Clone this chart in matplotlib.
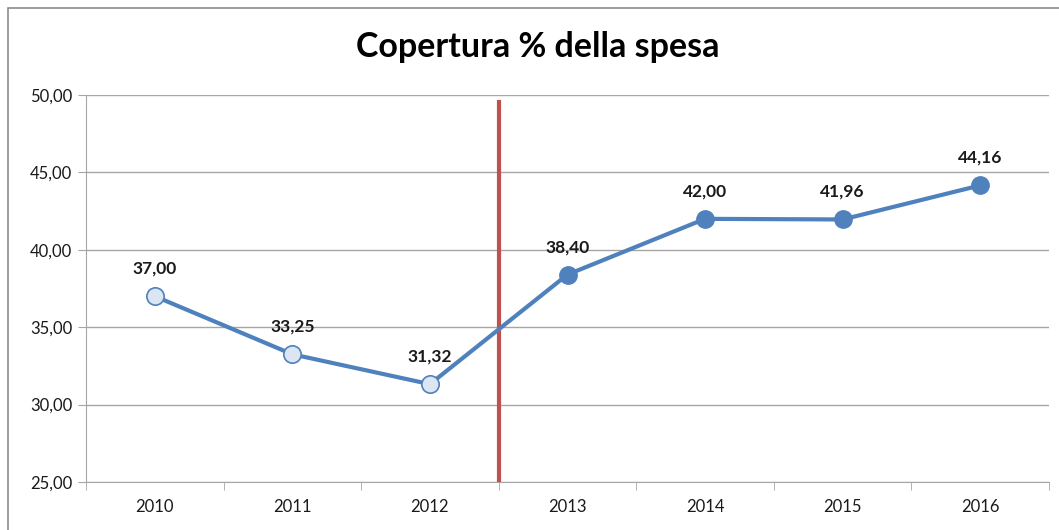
import matplotlib.pyplot as plt
from matplotlib.patches import Rectangle

plt.rcParams["font.family"] = ["Lato", "DejaVu Sans"]

# data
anni = ["2010", "2011", "2012", "2013", "2014", "2015", "2016"]
copertura = [37.00, 33.25, 31.32, 38.40, 42.00, 41.96, 44.16]
n_prima = 3  # years before the red separator (hollow markers)

blu = "#4f81bd"
chiaro = "#dce6f2"
griglia = "#a6a6a6"

fig = plt.figure(figsize=(10.59, 5.30), dpi=100)
W, H = 1059, 530
ax = fig.add_axes([86 / W, 1 - 482 / H, (1049 - 86) / W, (482 - 95) / H])

# outer chart border
fig.patches.append(Rectangle((8 / W, -0.1), 1.2, 1 - 8 / H + 0.1, transform=fig.transFigure,
                             fill=False, edgecolor="#8c8c8c", linewidth=1.2))

x = list(range(len(anni)))
ax.plot(x, copertura, color=blu, linewidth=3, zorder=3)
ax.plot(x[:n_prima], copertura[:n_prima], "o", markersize=12.5, markerfacecolor=chiaro,
        markeredgecolor=blu, markeredgewidth=1.2, zorder=4)
ax.plot(x[n_prima:], copertura[n_prima:], "o", markersize=12.5, markerfacecolor=blu,
        markeredgecolor=blu, zorder=4)

for xi, v in zip(x, copertura):
    ax.annotate(f"{v:.2f}".replace(".", ","), (xi, v), xytext=(0, 14), textcoords="offset points",
                ha="center", va="bottom", fontsize=12.5, fontweight="bold", color="#1a1a1a")

# red separator between 2012 and 2013
ax.plot([n_prima - 0.5, n_prima - 0.5], [25, 49.55], color="#c0504d", linewidth=3, zorder=2)

ax.set_xlim(-0.5, len(anni) - 0.5)
ax.set_ylim(25, 50)
ax.set_yticks([25, 30, 35, 40, 45, 50])
ax.set_yticklabels([f"{t:.2f}".replace(".", ",") for t in [25, 30, 35, 40, 45, 50]],
                   fontsize=12, color="#1a1a1a")
ax.set_xticks(x)
ax.set_xticklabels(anni, fontsize=12, color="#1a1a1a")
ax.set_xticks([i - 0.5 for i in range(len(anni) + 1)], minor=True)
ax.tick_params(axis="x", which="major", length=0, pad=12)
ax.tick_params(axis="x", which="minor", length=6, color=griglia, direction="out")
ax.tick_params(axis="y", length=6, color=griglia, pad=4)
ax.grid(axis="y", color=griglia, linewidth=1)
ax.set_axisbelow(True)
for s in ["top", "right"]:
    ax.spines[s].set_visible(False)
for s in ["left", "bottom"]:
    ax.spines[s].set_color(griglia)

fig.text(538 / W, 1 - 47 / H, "Copertura % della spesa", ha="center", va="center",
         fontsize=24.5, fontweight="bold", color="black")

fig.savefig("out.png", dpi=100)
